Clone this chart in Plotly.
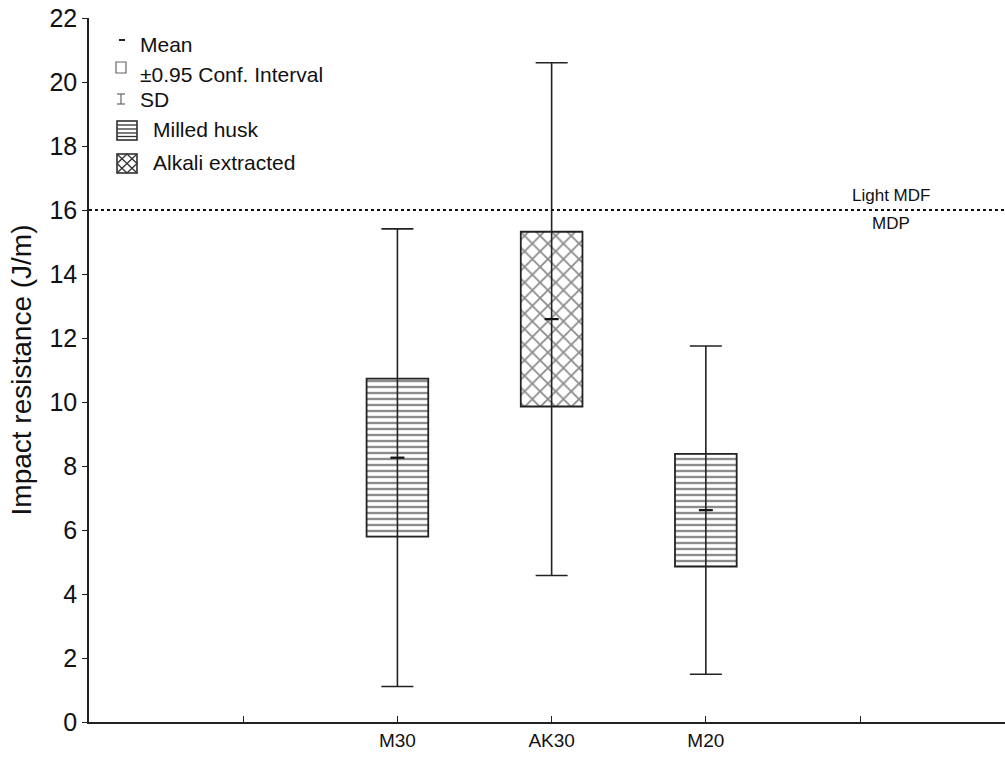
import plotly.graph_objects as go

# Impact resistance per composite: mean, 95% confidence half-width, standard deviation
categories = ["M30", "AK30", "M20"]
mean = [8.26, 12.59, 6.62]
ci95 = [2.47, 2.73, 1.76]
sd = [7.15, 8.01, 5.13]
fibre = ["Milled husk", "Alkali extracted", "Milled husk"]

# Reference level for light MDF / MDP boards
board_ref = 16
board_upper = "Light MDF"
board_lower = "MDP"

tick_pos = [1, 2, 3, 4, 5]
tick_text = ["", "M30", "AK30", "M20", ""]
cat_pos = [2, 3, 4]
y_ticks = list(range(0, 23, 2))

FONT = "Liberation Sans, Arial, sans-serif"
W, H = 1005, 758
ML, MR, MT, MB = 89, 0, 18, 36
PW, PH = W - ML - MR, H - MT - MB

patterns = {"Milled husk": dict(shape="-", size=6, solidity=0.4),
            "Alkali extracted": dict(shape="x", size=11, solidity=0.3)}

fig = go.Figure()

# confidence-interval boxes
for f in ["Milled husk", "Alkali extracted"]:
    idx = [i for i, v in enumerate(fibre) if v == f]
    fig.add_trace(go.Bar(
        x=[cat_pos[i] for i in idx],
        y=[2 * ci95[i] for i in idx],
        base=[mean[i] - ci95[i] for i in idx],
        width=0.4,
        name=f,
        marker=dict(color="white",
                    line=dict(color="#222", width=1.8),
                    pattern=dict(fgcolor="#1a1a1a", bgcolor="white",
                                 fillmode="overlay", **patterns[f])),
        showlegend=False,
    ))

# means with SD whiskers
fig.add_trace(go.Scatter(
    x=cat_pos, y=mean, mode="markers",
    marker=dict(symbol="line-ew", size=10, line=dict(color="#111", width=2.2)),
    error_y=dict(type="data", array=sd, symmetric=True,
                 color="#222", thickness=1.6, width=16),
    showlegend=False,
))


def px(x):
    return (x - ML) / PW


def py(y):
    return (H - MB - y) / PH


shapes = [
    dict(type="line", xref="paper", x0=0, x1=1, yref="y", y0=board_ref, y1=board_ref,
         line=dict(color="#111", width=2, dash="dot")),
]

legend_line = dict(color="#333", width=1.3)
# Mean glyph
shapes.append(dict(type="line", xref="paper", yref="paper",
                   x0=px(119), x1=px(125), y0=py(40), y1=py(40),
                   line=dict(color="#222", width=2)))
# CI glyph
shapes.append(dict(type="rect", xref="paper", yref="paper",
                   x0=px(116), x1=px(126), y0=py(73), y1=py(62),
                   line=dict(color="#666", width=1.2), fillcolor="white"))
# SD glyph
for seg in [((121, 94), (121, 104)), ((117, 94), (125, 94)), ((117, 104), (125, 104))]:
    shapes.append(dict(type="line", xref="paper", yref="paper",
                       x0=px(seg[0][0]), x1=px(seg[1][0]),
                       y0=py(seg[0][1]), y1=py(seg[1][1]),
                       line=dict(color="#666", width=1.2)))
# Milled husk glyph
x0, x1, y0, y1 = 117, 137, 121, 140
shapes.append(dict(type="rect", xref="paper", yref="paper",
                   x0=px(x0), x1=px(x1), y0=py(y1), y1=py(y0),
                   line=dict(color="#222", width=1.5), fillcolor="white"))
for yy in [125, 129, 133, 136.5]:
    shapes.append(dict(type="line", xref="paper", yref="paper",
                       x0=px(x0), x1=px(x1), y0=py(yy), y1=py(yy), line=legend_line))
# Alkali extracted glyph
x0, x1, y0, y1 = 117, 137, 154, 173
xm, ym = (x0 + x1) / 2, (y0 + y1) / 2
shapes.append(dict(type="rect", xref="paper", yref="paper",
                   x0=px(x0), x1=px(x1), y0=py(y1), y1=py(y0),
                   line=dict(color="#222", width=1.5), fillcolor="white"))
for seg in [((x0, y0), (x1, y1)), ((x0, y1), (x1, y0)),
            ((xm, y0), (x1, ym)), ((x1, ym), (xm, y1)),
            ((xm, y1), (x0, ym)), ((x0, ym), (xm, y0))]:
    shapes.append(dict(type="line", xref="paper", yref="paper",
                       x0=px(seg[0][0]), x1=px(seg[1][0]),
                       y0=py(seg[0][1]), y1=py(seg[1][1]), line=legend_line))

legend_items = [("Mean", 138, 44), ("±0.95 Conf. Interval", 138, 74), ("SD", 138, 100),
                ("Milled husk", 151, 130), ("Alkali extracted", 151, 163)]
annotations = [dict(text=t, xref="paper", yref="paper", x=px(x), y=py(y),
                    xanchor="left", yanchor="middle", showarrow=False,
                    font=dict(family=FONT, size=21, color="#111"))
               for t, x, y in legend_items]

annotations += [
    dict(text=board_upper, xref="x", yref="y", x=5.2, y=board_ref, yshift=15,
         showarrow=False, font=dict(family=FONT, size=17, color="#111")),
    dict(text=board_lower, xref="x", yref="y", x=5.2, y=board_ref, yshift=-13,
         showarrow=False, font=dict(family=FONT, size=17, color="#111")),
]

fig.update_layout(
    width=W, height=H,
    margin=dict(l=ML, r=MR, t=MT, b=MB),
    paper_bgcolor="white", plot_bgcolor="white",
    font=dict(family=FONT, color="#111"),
    barmode="overlay",
    shapes=shapes,
    annotations=annotations,
    xaxis=dict(range=[0, 5.94], tickvals=tick_pos, ticktext=tick_text,
               ticks="inside", ticklen=6, tickcolor="#222", tickwidth=1.3,
               showline=True, linecolor="#222", linewidth=1.5,
               showgrid=False, zeroline=False,
               tickfont=dict(family=FONT, size=19, color="#111")),
    yaxis=dict(range=[0, 22], tickvals=y_ticks,
               ticks="outside", ticklen=5, tickcolor="#222", tickwidth=1.3,
               showline=True, linecolor="#222", linewidth=1.5,
               showgrid=False, zeroline=False,
               tickfont=dict(family=FONT, size=25, color="#111"),
               title=dict(text="Impact resistance (J/m)", standoff=10,
                          font=dict(family=FONT, size=28, color="#111"))),
)

fig.write_html("out.html")
